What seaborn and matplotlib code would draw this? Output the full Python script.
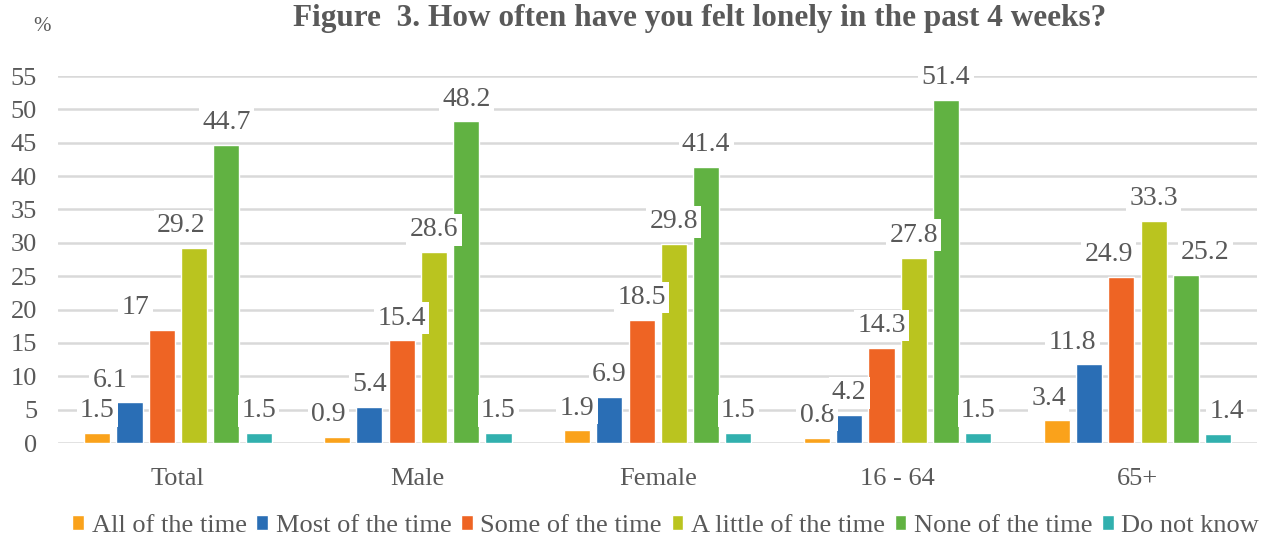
import seaborn as sns
import matplotlib.pyplot as plt
import pandas as pd

# Data
groups = ["Total", "Male", "Female", "16 - 64", "65+"]
responses = ["All of the time", "Most of the time", "Some of the time",
             "A little of the time", "None of the time", "Do not know"]
all_time = [1.5, 0.9, 1.9, 0.8, 3.4]
most_time = [6.1, 5.4, 6.9, 4.2, 11.8]
some_time = [17, 15.4, 18.5, 14.3, 24.9]
little_time = [29.2, 28.6, 29.8, 27.8, 33.3]
none_time = [44.7, 48.2, 41.4, 51.4, 25.2]
dont_know = [1.5, 1.5, 1.5, 1.5, 1.4]
colors = ["#FAA21B", "#2A6EB5", "#EE6424", "#BAC41F", "#61B242", "#31B0AE"]

series = [all_time, most_time, some_time, little_time, none_time, dont_know]
df = pd.DataFrame([
    {"group": g, "response": r, "value": v}
    for r, vals in zip(responses, series)
    for g, v in zip(groups, vals)
])

sns.set_theme(style="whitegrid")
plt.rcParams["font.family"] = ["Liberation Serif", "DejaVu Serif"]
grey = "#595959"

fig = plt.figure(figsize=(12.68, 5.36), dpi=100)
ax = fig.add_axes([0.0457, 0.1735, 0.946, 0.6847])

sns.barplot(data=df, x="group", y="value", hue="response", hue_order=responses,
            order=groups, palette=colors, width=0.807, gap=0.19,
            saturation=1, ax=ax, legend=True)

# horizontal nudges (points) where the original labels were shifted to avoid overlap
nudge = {(1, 0): -14, (2, 0): -19, (3, 0): -9, (0, 1): -6,
         (0, 4): -6, (1, 4): -12, (2, 4): -9, (4, 4): 14, (5, 4): 6}

for i, (cont, vals) in enumerate(zip(ax.containers, series)):
    anns = ax.bar_label(cont, labels=[f"{v:g}" for v in vals], padding=7,
                        fontsize=20, color=grey, zorder=5,
                        bbox=dict(boxstyle="square,pad=0.12", fc="white", ec="none"))
    for j, ann in enumerate(anns):
        ann.xyann = (nudge.get((i, j), 0), ann.xyann[1])

ax.set_ylim(0, 55)
ax.set_xlim(-0.5, 4.5)
ax.set_yticks(range(0, 56, 5))
ax.set_xlabel("")
ax.set_ylabel("")
ax.set_axisbelow(True)
ax.grid(axis="y", color="#D9D9D9", linewidth=1.8)
ax.grid(axis="x", visible=False)
for s in ax.spines.values():
    s.set_visible(False)
ax.tick_params(axis="y", length=0, pad=15, labelsize=19, labelcolor=grey)
ax.tick_params(axis="x", length=0, pad=18, labelsize=19, labelcolor=grey)

handles, labels = ax.get_legend_handles_labels()
ax.get_legend().remove()
fig.legend(handles, labels, loc="center", bbox_to_anchor=(0.525, 0.019),
           ncol=6, frameon=False, fontsize=19, labelcolor=grey,
           handlelength=0.45, handleheight=0.45, handletextpad=0.28,
           columnspacing=0.37, borderaxespad=0)

fig.text(0.552, 0.966, "Figure  3. How often have you felt lonely in the past 4 weeks?",
         ha="center", va="center", fontsize=22.5, fontweight="bold", color=grey)
fig.text(0.033, 0.95, "%", ha="center", va="center", fontsize=15, color=grey)

fig.savefig("out.png", dpi=100)
